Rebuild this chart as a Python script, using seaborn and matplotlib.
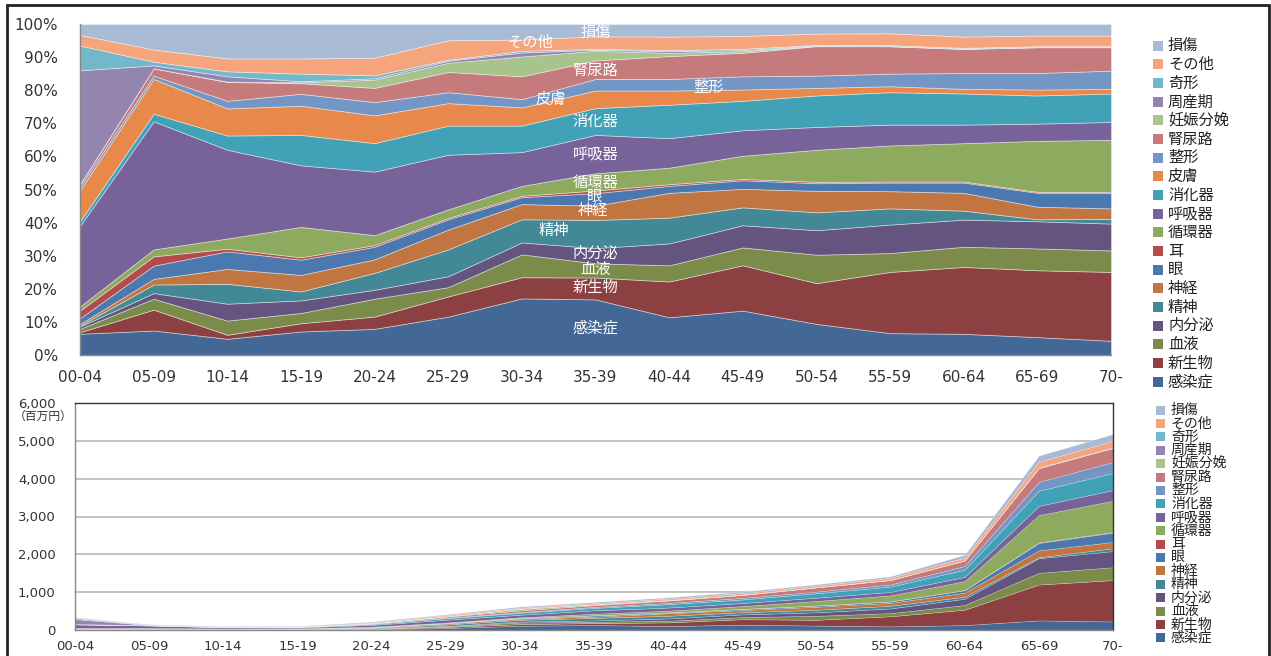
import numpy as np
import matplotlib
matplotlib.use("Agg")
import matplotlib.pyplot as plt
from matplotlib.patches import Rectangle
from matplotlib.ticker import FuncFormatter
import seaborn as sns

sns.set_theme(style="white")
plt.rcParams['font.family'] = ['DejaVu Sans', 'Noto Sans CJK JP']

# 年齢階級
age_groups = ["00-04", "05-09", "10-14", "15-19", "20-24", "25-29", "30-34", "35-39",
              "40-44", "45-49", "50-54", "55-59", "60-64", "65-69", "70-"]

# 疾病分類別の構成比 (%) 下から順
kansensho = [6.4, 7.4, 4.9, 7.1, 7.9, 11.6, 17.1, 16.8, 11.4, 13.4, 9.4, 6.6, 6.4, 5.4, 4.3]
shinseibutsu = [0.5, 6.3, 1.2, 2.5, 3.7, 6.1, 6.4, 6.6, 10.8, 13.7, 12.3, 18.5, 20.2, 20.2, 20.8]
ketsueki = [1.0, 3.3, 4.3, 3.1, 5.4, 2.8, 6.9, 4.3, 4.9, 5.4, 8.6, 5.7, 6.1, 6.6, 6.5]
naibunpi = [0.7, 1.7, 5.1, 3.8, 2.7, 3.3, 3.6, 4.6, 6.6, 6.7, 7.4, 8.6, 8.2, 8.2, 8.1]
seishin = [0.3, 2.6, 6.0, 2.7, 5.1, 8.1, 7.0, 8.5, 7.8, 5.4, 5.4, 4.9, 2.7, 0.6, 1.4]
shinkei = [0.5, 1.7, 4.5, 5.0, 4.1, 6.0, 4.6, 4.3, 7.5, 5.6, 6.5, 5.2, 5.4, 3.8, 3.2]
me = [1.7, 4.0, 5.3, 4.6, 3.8, 3.1, 2.1, 3.8, 2.1, 2.6, 2.3, 2.6, 3.1, 4.2, 4.7]
mimi = [2.3, 2.8, 0.8, 0.7, 0.5, 0.4, 0.4, 0.8, 0.5, 0.4, 0.4, 0.3, 0.3, 0.3, 0.3]
junkanki = [1.3, 2.1, 3.1, 9.2, 3.0, 2.6, 3.0, 5.2, 5.0, 7.0, 9.7, 10.9, 11.6, 15.4, 15.7]
kokyuki = [24.3, 38.7, 26.8, 18.6, 19.2, 16.5, 10.2, 11.6, 8.9, 7.7, 6.9, 6.3, 5.6, 5.2, 5.4]
shokaki = [1.4, 2.3, 4.3, 9.2, 8.6, 8.8, 8.0, 8.1, 10.1, 8.9, 9.5, 9.8, 9.4, 8.5, 8.6]
hifu = [9.4, 10.5, 8.2, 8.8, 8.4, 6.8, 5.5, 5.3, 4.3, 3.4, 2.3, 1.8, 1.4, 1.8, 1.4]
seikei = [1.1, 1.0, 2.3, 3.6, 4.0, 3.3, 2.5, 3.5, 3.5, 4.0, 3.7, 3.8, 4.8, 5.0, 5.5]
jinnyoro = [0.8, 2.2, 5.7, 3.2, 4.3, 6.1, 6.9, 5.6, 6.9, 7.1, 8.9, 8.3, 7.3, 7.8, 7.1]
ninshin = [0.0, 0.0, 0.1, 0.3, 2.5, 2.8, 6.0, 2.9, 1.0, 0.5, 0.1, 0.0, 0.0, 0.0, 0.0]
shusanki = [34.3, 0.9, 1.6, 0.3, 0.4, 0.6, 1.2, 0.3, 0.5, 0.3, 0.1, 0.1, 0.1, 0.1, 0.1]
kikei = [7.5, 1.1, 1.5, 2.3, 0.9, 0.3, 0.5, 0.3, 0.3, 0.4, 0.2, 0.2, 0.2, 0.2, 0.2]
sonota = [3.2, 3.7, 3.9, 4.6, 5.3, 5.9, 3.4, 3.8, 4.1, 3.9, 3.4, 3.6, 3.4, 3.2, 3.2]
sonsho = [3.3, 7.7, 10.4, 10.4, 10.2, 4.9, 4.7, 3.7, 3.8, 3.6, 2.9, 2.8, 3.8, 3.5, 3.5]

# 医療費合計（百万円）
totals = [340, 150, 105, 105, 220, 415, 620, 740, 865, 1015, 1210, 1420, 1990, 4610, 5180]

categories = ["感染症", "新生物", "血液", "内分泌", "精神", "神経", "眼", "耳", "循環器",
              "呼吸器", "消化器", "皮膚", "整形", "腎尿路", "妊娠分娩", "周産期", "奇形",
              "その他", "損傷"]
colors = ["#436896", "#8D4042", "#7B8C4A", "#655380", "#428897", "#C17642", "#4A78AF",
          "#B34B4D", "#8EAA5E", "#776399", "#41A1B7", "#E8894B", "#7396C4", "#C57A7C",
          "#A8C38B", "#9485B0", "#73B8CA", "#F5A47B", "#A9BAD5"]

share = np.array([kansensho, shinseibutsu, ketsueki, naibunpi, seishin, shinkei, me, mimi,
                  junkanki, kokyuki, shokaki, hifu, seikei, jinnyoro, ninshin, shusanki,
                  kikei, sonota, sonsho])
x = np.arange(len(age_groups))

W, H = 1271, 656
fig = plt.figure(figsize=(W / 100, H / 100), dpi=100)

# ---- 上段: 構成比 ----
ax1 = fig.add_axes([80 / W, 1 - 355 / H, 1031 / W, 331 / H])
pct = share / share.sum(axis=0) * 100
ax1.stackplot(x, pct, colors=colors, edgecolor=(1, 1, 1, 0.45), linewidth=0.6)
ax1.set_xlim(0, len(x) - 1)
ax1.set_ylim(0, 100)
ax1.set_xticks(x)
ax1.set_xticklabels(age_groups)
ax1.set_yticks(range(0, 101, 10))
ax1.yaxis.set_major_formatter(FuncFormatter(lambda v, p: f"{int(v)}%"))
ax1.tick_params(axis='both', labelsize=11, colors='#333333', length=5, width=1,
                color='#888888', direction='out')
ax1.tick_params(axis='y', length=12, pad=4)
ax1.tick_params(axis='x', pad=6)
for s in ['top', 'right']:
    ax1.spines[s].set_visible(False)
for s in ['left', 'bottom']:
    ax1.spines[s].set_color('#888888')
    ax1.spines[s].set_linewidth(1)

# 帯の中のラベル (x: 年齢階級の位置, y: %)
inside_labels = [("損傷", 7.0, 97.5), ("その他", 6.11, 94.6), ("腎尿路", 7.0, 86.1),
                 ("皮膚", 6.4, 77.2), ("整形", 8.53, 80.7), ("消化器", 7.0, 70.6),
                 ("呼吸器", 7.0, 60.7), ("循環器", 7.0, 52.2), ("眼", 6.99, 47.8),
                 ("神経", 6.96, 43.8), ("精神", 6.44, 37.7), ("内分泌", 7.0, 30.6),
                 ("血液", 7.0, 25.8), ("新生物", 7.0, 20.3), ("感染症", 7.0, 8.1)]
for name, lx, ly in inside_labels:
    ax1.text(lx, ly, name, color='white', fontsize=11, ha='center', va='center')

# ---- 下段: 金額 ----
ax2 = fig.add_axes([75 / W, 1 - 630 / H, 1038 / W, 227 / H])
keep = [i for i, c in enumerate(categories) if c != "皮膚"]
sub = share[keep]
amount = sub / sub.sum(axis=0) * np.array(totals)
ax2.stackplot(x, amount, colors=[colors[i] for i in keep],
              edgecolor=(1, 1, 1, 0.35), linewidth=0.4)
ax2.set_xlim(0, len(x) - 1)
ax2.set_ylim(0, 6000)
ax2.set_xticks(x)
ax2.set_xticklabels(age_groups)
ax2.set_yticks(range(0, 6001, 1000))
ax2.yaxis.set_major_formatter(FuncFormatter(lambda v, p: f"{int(v):,}"))
ax2.grid(axis='y', color='#BEBEBE', linewidth=1.3)
ax2.set_axisbelow(True)
ax2.tick_params(axis='both', labelsize=9.5, colors='#333333', length=4, width=1,
                color='#888888', direction='out', pad=3)
ax2.tick_params(axis='y', pad=10)
for s in ['left', 'bottom']:
    ax2.spines[s].set_color('#888888')
for s in ['top', 'right']:
    ax2.spines[s].set_color('#333333')
for s in ax2.spines.values():
    s.set_linewidth(1)
fig.text(43 / W, 1 - 416 / H, "（百万円）", fontsize=8.5, ha='center', va='center',
         color='#333333')

# ---- 凡例 ----
def draw_legend(y0, pitch, mx, msize, tx, fsize, names, cols):
    for k, (name, col) in enumerate(zip(names, cols)):
        yc = y0 + k * pitch
        fig.add_artist(Rectangle((mx / W, 1 - (yc + msize / 2) / H), msize / W, msize / H,
                                 facecolor=col, edgecolor='none', transform=fig.transFigure))
        fig.text(tx / W, 1 - yc / H, name, fontsize=fsize, va='center', ha='left',
                 color='#222222')

draw_legend(45.7, 18.67, 1153, 10, 1168, 11, categories[::-1], colors[::-1])
draw_legend(410, 13.4, 1156, 9, 1171, 10,
            [categories[i] for i in keep][::-1], [colors[i] for i in keep][::-1])

# 外枠
fig.add_artist(Rectangle((7 / W, -0.05), (1269 - 7) / W, 1.05 - 5 / H, fill=False,
                         edgecolor='#222222', linewidth=2, transform=fig.transFigure))

fig.savefig("out.png", dpi=100)
